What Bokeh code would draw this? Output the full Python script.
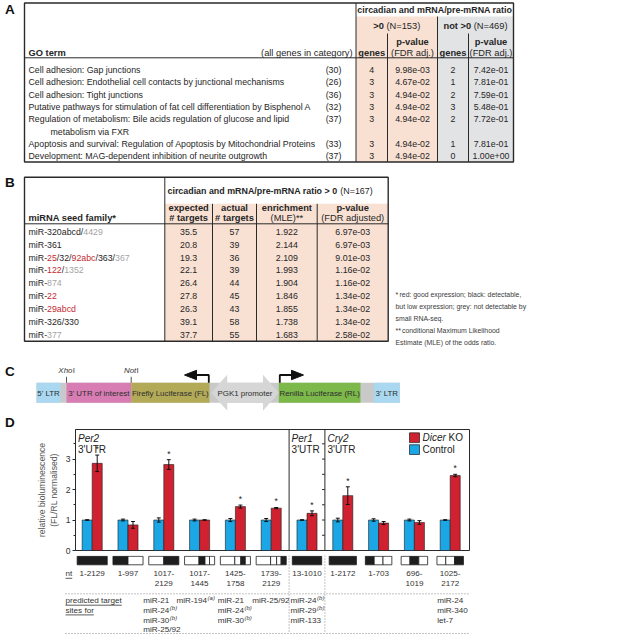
from bokeh.plotting import figure
from bokeh.models import Range1d, FixedTicker
from bokeh.embed import file_html
from bokeh.resources import INLINE
from bokeh.core.properties import value

# ======================= DATA =======================
# Panel A
GO_TERMS = [
    ["Cell adhesion: Gap junctions"],
    ["Cell adhesion: Endothelial cell contacts by junctional mechanisms"],
    ["Cell adhesion: Tight junctions"],
    ["Putative pathways for stimulation of fat cell differentiation by Bisphenol A"],
    ["Regulation of metabolism: Bile acids regulation of glucose and lipid", "metabolism via FXR"],
    ["Apoptosis and survival: Regulation of Apoptosis by Mitochondrial Proteins"],
    ["Development: MAG-dependent inhibition of neurite outgrowth"],
]
GO_CATEGORY_SIZE = [30, 26, 36, 32, 37, 33, 37]
POS_GENES = [4, 3, 3, 3, 3, 3, 3]
POS_PVAL = ["9.98e-03", "4.67e-02", "4.94e-02", "4.94e-02", "4.94e-02", "4.94e-02", "4.94e-02"]
NEG_GENES = [2, 1, 2, 3, 2, 1, 0]
NEG_PVAL = ["7.42e-01", "7.81e-01", "7.59e-01", "5.48e-01", "7.72e-01", "7.81e-01", "1.00e+00"]
N_POS_A = 153
N_NEG_A = 469

# Panel B  (k: black, r: red, g: grey)
MIRNA_FAMILY = [
    [("miR-320abcd/", "k"), ("4429", "g")],
    [("miR-361", "k")],
    [("miR-", "k"), ("25", "r"), ("/32/", "k"), ("92abc", "r"), ("/363/", "k"), ("367", "g")],
    [("miR-", "k"), ("122", "r"), ("/", "k"), ("1352", "g")],
    [("miR-", "k"), ("874", "g")],
    [("miR-", "k"), ("22", "r")],
    [("miR-", "k"), ("29abcd", "r")],
    [("miR-326/330", "k")],
    [("miR-", "k"), ("377", "g")],
]
EXPECTED_TARGETS = [35.5, 20.8, 19.3, 22.1, 26.4, 27.8, 26.3, 39.1, 37.7]
ACTUAL_TARGETS = [57, 39, 36, 39, 44, 45, 43, 58, 55]
ENRICHMENT = [1.922, 2.144, 2.109, 1.993, 1.904, 1.846, 1.855, 1.738, 1.683]
PVAL_B = ["6.97e-03", "6.97e-03", "9.01e-03", "1.16e-02", "1.16e-02",
          "1.34e-02", "1.34e-02", "1.34e-02", "2.58e-02"]
N_B = 167
FOOTNOTE = [("* ", "red: good expression; black: detectable,"),
            ("", "but low expression; grey: not detectable by"),
            ("", "small RNA-seq."),
            ("** ", "conditional Maximum Likelihood"),
            ("", "Estimate (MLE) of the odds ratio.")]

# Panel D
GENE_PANELS = ["Per2", "Per1", "Cry2"]
NT_LABELS = [["1-2129"], ["1-997"], ["1017-", "2129"], ["1017-", "1445"], ["1425-", "1758"],
             ["1739-", "2129"], ["13-1010"], ["1-2172"], ["1-703"], ["696-", "1019"], ["1025-", "2172"]]
CONTROL = [1.00, 1.00, 1.00, 1.00, 1.00, 1.00, 1.00, 1.00, 1.00, 1.00, 1.00]
CONTROL_ERR = [0.01, 0.03, 0.07, 0.03, 0.05, 0.05, 0.01, 0.06, 0.04, 0.03, 0.01]
DICER_KO = [2.86, 0.84, 2.82, 1.00, 1.44, 1.39, 1.22, 1.80, 0.90, 0.92, 2.46]
DICER_KO_ERR = [0.27, 0.11, 0.16, 0.01, 0.05, 0.02, 0.08, 0.29, 0.05, 0.06, 0.04]
DICER_KO_SIG = [1, 0, 1, 0, 1, 1, 1, 1, 0, 0, 1]
# parts of the 3'UTR contained in each construct: (start fraction, end fraction, included)
NT_SEGMENTS = [
    [(0.0, 1.0, 1)],
    [(0.0, 0.5, 1), (0.5, 1.0, 0)],
    [(0.0, 0.5, 0), (0.5, 1.0, 1)],
    [(0.0, 0.48, 0), (0.48, 0.68, 1), (0.68, 0.83, 0), (0.83, 1.0, 0)],
    [(0.0, 0.48, 0), (0.48, 0.68, 0), (0.68, 0.83, 1), (0.83, 1.0, 0)],
    [(0.0, 0.48, 0), (0.48, 0.68, 0), (0.68, 0.83, 0), (0.83, 1.0, 1)],
    [(0.0, 1.0, 1)],
    [(0.0, 1.0, 1)],
    [(0.0, 0.333, 1), (0.333, 0.667, 0), (0.667, 1.0, 0)],
    [(0.0, 0.333, 0), (0.333, 0.667, 1), (0.667, 1.0, 0)],
    [(0.0, 0.333, 0), (0.333, 0.667, 0), (0.667, 1.0, 1)],
]
TARGET_SITES = {
    2: [("miR-21", ""), ("miR-24", "(b)"), ("miR-30", "(b)"), ("miR-25/92", "")],
    3: [("miR-194", "(a)")],
    4: [("miR-21", ""), ("miR-24", "(b)"), ("miR-30", "(b)")],
    5: [("miR-25/92", "")],
    6: [("miR-24", "(b)"), ("miR-29", "(b)"), ("miR-133", "")],
    10: [("miR-24", ""), ("miR-340", ""), ("let-7", "")],
}

# ======================= STYLE =======================
SANS = "Liberation Sans"
LINE = "#2a2a2a"
TXT = "#262626"
PEACH = "#f8e0d2"
GREYBG = "#e2e3e5"
COLORS = {"k": TXT, "r": "#c42a32", "g": "#a4a4a4"}
BLUE = "#1ba7e5"
RED = "#cf2130"
FT = 8.8    # table body font
FH = 9.3    # table header font
FTOP = 8.9  # top header font

AW = {' ': 278, '-': 333, '/': 278, '(': 333, ')': 333, '=': 584, '>': 584, '.': 278, ',': 278,
      ':': 278, ';': 278, '*': 389, "'": 191, '#': 556,
      'A': 667, 'B': 667, 'C': 722, 'D': 722, 'E': 667, 'F': 611, 'G': 778, 'H': 722, 'I': 278,
      'K': 667, 'L': 556, 'M': 833, 'N': 722, 'O': 778, 'P': 667, 'R': 722, 'S': 667, 'T': 611,
      'U': 722, 'X': 667, 'a': 556, 'b': 556, 'c': 500, 'd': 556, 'e': 556, 'f': 278, 'g': 556,
      'h': 556, 'i': 222, 'j': 222, 'k': 500, 'l': 222, 'm': 833, 'n': 556, 'o': 556, 'p': 556,
      'q': 556, 'r': 333, 's': 500, 't': 278, 'u': 556, 'v': 500, 'w': 722, 'x': 500, 'y': 500, 'z': 500}
AWB = dict(AW)
AWB.update({'a': 556, 'b': 611, 'c': 556, 'd': 611, 'e': 556, 'f': 333, 'g': 611, 'h': 611, 'i': 278,
            'j': 278, 'k': 556, 'l': 278, 'm': 889, 'n': 611, 'o': 611, 'p': 611, 'q': 611, 'r': 389,
            's': 556, 't': 333, 'u': 611, 'v': 556, 'w': 778, 'x': 556, 'y': 556, 'A': 722, 'N': 722,
            'R': 722, '*': 389, "'": 238})


def tw(s, size, bold=False):
    table = AWB if bold else AW
    return sum(table.get(c, 556) for c in s) / 1000.0 * size


def fs(px):
    return "%.2fpx" % px


def txt(p, x, y, s, size=FT, color=TXT, align="left", style="normal", baseline="middle"):
    p.text(x=[x], y=[y], text=[s], text_font=value(SANS), text_font_size=fs(size),
           text_color=color, text_align=align, text_baseline=baseline, text_font_style=style)


def rich(p, x, y, segs, size=FT):
    xx = x
    for s, c in segs:
        txt(p, xx, y, s, size, color=COLORS[c])
        xx += tw(s, size)


def blank(p):
    p.grid.visible = False
    return p


# ======================= TOP FIGURE (A, B, C) =======================
top = figure(width=617, height=428, x_range=Range1d(0, 617), y_range=Range1d(428, 0),
             x_axis_type=None, y_axis_type=None, output_backend="svg", toolbar_location=None,
             min_border=0, outline_line_color=None)
blank(top)

for letter, ly in [("A", 8.5), ("B", 182.0), ("C", 371.0), ("D", 421.5)]:
    txt(top, 4.5, ly, letter, 13.5, color="#111", style="bold")

# ---- Panel A
A_L, A_R, A_T, A_B = 24, 513, 2.5, 161.5
XS, XG1, XM, XG2 = 355.5, 387, 437, 468
top.quad(left=[XS], right=[XM], top=[16], bottom=[A_B], fill_color=PEACH, line_color=None)
top.quad(left=[XM], right=[A_R], top=[16], bottom=[A_B], fill_color=GREYBG, line_color=None)
top.segment(x0=[XS, XM, XG1, XG2, A_L], y0=[A_T, 16, 33, 33, 57.3],
            x1=[XS, XM, XG1, XG2, A_R], y1=[A_B, A_B, A_B, A_B, 57.3], line_color=LINE, line_width=1)
top.quad(left=[A_L], right=[A_R], top=[A_T], bottom=[A_B], fill_color=None, line_color=LINE, line_width=1.4)

txt(top, (XS + A_R) / 2, 9.4, "circadian and mRNA/pre-mRNA ratio", FTOP, style="bold", align="center")
for (bt_, rt_, l_, r_) in [(">0", "(N=%d)" % N_POS_A, XS, XM), ("not >0", "(N=%d)" % N_NEG_A, XM, A_R)]:
    wb = tw(bt_ + " ", FH, True)
    wtot = wb + tw(rt_, FH)
    x0 = (l_ + r_) / 2 - wtot / 2
    txt(top, x0, 25, bt_, FH, style="bold")
    txt(top, x0 + wb, 25, rt_, FH)
for cx in [(XG1 + XM) / 2, (XG2 + A_R) / 2]:
    txt(top, cx, 41.5, "p-value", FH, style="bold", align="center")
    txt(top, cx, 52.0, "(FDR adj.)", FH, align="center")
for cx in [(XS + XG1) / 2, (XM + XG2) / 2]:
    txt(top, cx, 52.0, "genes", FH, style="bold", align="center")
txt(top, 28, 52.0, "GO term", FH, style="bold")
txt(top, 352, 52.0, "(all genes in category)", FH, align="right")

slot = 0
for i, lines in enumerate(GO_TERMS):
    y = 69.5 + 12.3 * slot
    txt(top, 28, y, lines[0])
    if len(lines) > 1:
        txt(top, 50, y + 12.3, lines[1])
    txt(top, 333, y, "(%d)" % GO_CATEGORY_SIZE[i], align="center")
    txt(top, (XS + XG1) / 2, y, str(POS_GENES[i]), align="center")
    txt(top, (XG1 + XM) / 2, y, POS_PVAL[i], align="center")
    txt(top, (XM + XG2) / 2, y, str(NEG_GENES[i]), align="center")
    txt(top, (XG2 + A_R) / 2, y, NEG_PVAL[i], align="center")
    slot += len(lines)

# ---- Panel B
B_L, B_R, B_T, B_B = 24, 387.7, 176.7, 340.7
BC = [164.3, 212, 256, 316.7, 387.7]
top.quad(left=[BC[0]], right=[B_R], top=[203.3], bottom=[B_B], fill_color=PEACH, line_color=None)
top.segment(x0=[BC[0], BC[1], BC[2], BC[3], B_L], y0=[B_T, 203.3, 203.3, 203.3, 223.3],
            x1=[BC[0], BC[1], BC[2], BC[3], B_R], y1=[B_B, B_B, B_B, B_B, 223.3], line_color=LINE, line_width=1)
top.quad(left=[B_L], right=[B_R], top=[B_T], bottom=[B_B], fill_color=None, line_color=LINE, line_width=1.4)
hb = "circadian and mRNA/pre-mRNA ratio > 0"
txt(top, 167, 190, hb, FTOP, style="bold")
txt(top, 167 + tw(hb + " ", FTOP, True), 190, "(N=%d)" % N_B, FTOP)
heads = [("expected", "# targets", True), ("actual", "# targets", True),
         ("enrichment", "(MLE)**", False), ("p-value", "(FDR adjusted)", False)]
for j, (h1, h2, bold2) in enumerate(heads):
    cx = (BC[j] + BC[j + 1]) / 2
    txt(top, cx, 207.8, h1, FH, style="bold", align="center")
    txt(top, cx, 217.6, h2, FH, style="bold" if bold2 else "normal", align="center")
txt(top, 28, 217.6, "miRNA seed family*", FH, style="bold")
for i, segs in enumerate(MIRNA_FAMILY):
    y = 231.2 + 12.9 * i
    rich(top, 28, y, segs)
    txt(top, (BC[0] + BC[1]) / 2, y, "%.1f" % EXPECTED_TARGETS[i], align="center")
    txt(top, (BC[1] + BC[2]) / 2, y, "%d" % ACTUAL_TARGETS[i], align="center")
    txt(top, (BC[2] + BC[3]) / 2, y, "%.3f" % ENRICHMENT[i], align="center")
    txt(top, (BC[3] + BC[4]) / 2, y, PVAL_B[i], align="center")
for k, (mark, line) in enumerate(FOOTNOTE):
    yy = 293.5 + 12.0 * k
    if mark:
        txt(top, 395, yy, mark.strip(), 6.9, color="#3a3a3a")
        txt(top, 395 + (6.5 if len(mark) > 2 else 4.0), yy, line, 6.9, color="#3a3a3a")
    else:
        txt(top, 395, yy, line, 6.9, color="#3a3a3a")

# ---- Panel C
CY0, CY1 = 382.3, 402.3
FC = 7.9
top.quad(left=[36], right=[399.3], top=[CY0], bottom=[CY1], fill_color="#c9c9c9", line_color=None)
C_BOXES = [(36, 60, "#aad8f0", "5' LTR"), (66, 130.7, "#d77db4", "3' UTR of interest"),
           (130.7, 209, "#b3aa58", "Firefly Luciferase (FL)"),
           (278.3, 360, "#7cb84a", "Renilla Luciferase (RL)"), (373.3, 399.3, "#aad8f0", "3' LTR")]
for l, r, c, lab in C_BOXES:
    top.quad(left=[l], right=[r], top=[CY0], bottom=[CY1], fill_color=c, line_color=None)
    txt(top, (l + r) / 2, 392.6, lab, FC, color="#2e2e2e", align="center")
top.patch(x=[210.7, 226.7, 226.7, 262.5, 262.5, 278.3, 262.5, 262.5, 226.7, 226.7],
          y=[392.3, 374.3, 382.3, 382.3, 374.3, 392.3, 410.3, 402.3, 402.3, 410.3],
          fill_color="#d6d6d6", line_color=None)
txt(top, 244.5, 392.6, "PGK1 promoter", FC, color="#2e2e2e", align="center")
top.line(x=[208.3, 208.3, 195], y=[382.3, 374.5, 374.5], line_color="#111", line_width=1.8)
top.patch(x=[184, 196, 196], y=[374.5, 369.8, 379.2], fill_color="#111", line_color="#111")
top.line(x=[279.3, 279.3, 292], y=[382.3, 374.5, 374.5], line_color="#111", line_width=1.8)
top.patch(x=[303, 291, 291], y=[374.5, 369.8, 379.2], fill_color="#111", line_color="#111")
top.segment(x0=[66, 130.7], y0=[376.3, 376.3], x1=[66, 130.7], y1=[382.3, 382.3], line_color="#555", line_width=1)
for sx, ital in [(66, "Xho"), (130.7, "Not")]:
    wi = tw(ital, FC) + tw("I", FC)
    xs0 = sx - wi / 2
    txt(top, xs0, 369.8, ital, FC, color="#333", style="italic")
    txt(top, xs0 + tw(ital, FC) + 0.3, 369.8, "I", FC, color="#333")

# ======================= CHART (D) =======================
PX0, STEP = 91.7, 35.8


def gx(px):
    return (px - PX0) / STEP


ch = figure(width=617, height=127, x_range=Range1d(gx(75), gx(469)), y_range=Range1d(0, 3.97),
            x_axis_type=None, output_backend="svg", toolbar_location=None,
            min_border_left=75, min_border_right=148, min_border_top=1, min_border_bottom=5,
            outline_line_color=LINE, outline_line_width=1)
blank(ch)
ya = ch.yaxis[0]
ya.ticker = FixedTicker(ticks=[0, 1, 2, 3], minor_ticks=[0.5, 1.5, 2.5, 3.5])
ya.axis_label = "relative bioluminescence\n(FL/RL normalised)"
ya.axis_label_text_font = SANS
ya.axis_label_text_font_size = fs(8.6)
ya.axis_label_text_font_style = "normal"
ya.axis_label_text_color = "#555"
ya.axis_label_standoff = 4
ya.major_label_text_font = SANS
ya.major_label_text_font_size = fs(8.6)
ya.major_label_text_color = "#333"
ya.major_label_standoff = 2
ya.major_tick_out = 3
ya.major_tick_in = 0
ya.minor_tick_out = 2
ya.minor_tick_in = 0
ya.axis_line_color = LINE
ya.major_tick_line_color = LINE
ya.minor_tick_line_color = LINE

idx = list(range(len(DICER_KO)))
xc = [i - 0.14 for i in idx]
xk = [i + 0.14 for i in idx]
ch.vbar(x=xc, top=CONTROL, bottom=0, width=0.28, fill_color=BLUE, line_color="#1c1c1c", line_width=0.6)
ch.vbar(x=xk, top=DICER_KO, bottom=0, width=0.28, fill_color=RED, line_color="#1c1c1c", line_width=0.6)
for xs_, vals, errs in [(xc, CONTROL, CONTROL_ERR), (xk, DICER_KO, DICER_KO_ERR)]:
    lo = [v - e for v, e in zip(vals, errs)]
    hi = [v + e for v, e in zip(vals, errs)]
    ch.segment(x0=xs_, y0=lo, x1=xs_, y1=hi, line_color="#111", line_width=1)
    ch.segment(x0=[x - 0.055 for x in xs_], y0=hi, x1=[x + 0.055 for x in xs_], y1=hi, line_color="#111", line_width=1)
    ch.segment(x0=[x - 0.055 for x in xs_], y0=lo, x1=[x + 0.055 for x in xs_], y1=lo, line_color="#111", line_width=1)
sig_x = [xk[i] for i in idx if DICER_KO_SIG[i]]
sig_y = [DICER_KO[i] + DICER_KO_ERR[i] + 0.2 for i in idx if DICER_KO_SIG[i]]
ch.text(x=sig_x, y=sig_y, text=["*"] * len(sig_x), text_font=value(SANS), text_font_size=fs(8.5),
        text_align="center", text_baseline="middle", text_color="#222")
ch.segment(x0=[5.5, 6.5], y0=[0, 0], x1=[5.5, 6.5], y1=[4, 4], line_color=LINE, line_width=1)
tk = [0.5, 1.0, 1.5, 2.0, 2.5, 3.0, 3.5]
ch.segment(x0=[6.42] * len(tk), y0=tk, x1=[6.5] * len(tk), y1=tk, line_color=LINE, line_width=1)
FG = 10.0
for g, gname in enumerate(GENE_PANELS):
    xg = [gx(77.5), 5.5 + 0.07, 6.5 + 0.07][g]
    txt(ch, xg, 3.69, gname, FG, color="#222", style="italic")
    txt(ch, xg, 3.31, "3'UTR", FG, color="#222")
ch.quad(left=[gx(409)], right=[gx(419)], top=[3.86], bottom=[3.54], fill_color=RED, line_color="#1c1c1c", line_width=0.7)
ch.quad(left=[gx(409)], right=[gx(419)], top=[3.47], bottom=[3.15], fill_color=BLUE, line_color="#1c1c1c", line_width=0.7)
txt(ch, gx(422), 3.70, "Dicer", FG, color="#222", style="italic")
txt(ch, gx(422) + tw("Dicer ", FG) / STEP, 3.70, "KO", FG, color="#222")
txt(ch, gx(422), 3.31, "Control", FG, color="#222")

# ======================= BOTTOM (constructs + targets) =======================
bt = figure(width=617, height=79, x_range=Range1d(gx(0), gx(617)), y_range=Range1d(634, 555),
            x_axis_type=None, y_axis_type=None, output_backend="svg", toolbar_location=None,
            min_border=0, outline_line_color=None)
blank(bt)
FB = 8.1
BOX_W = [0.84, 0.84, 0.84, 0.84, 0.84, 0.84, 0.82, 0.76, 0.74, 0.74, 0.74]
ql, qr, qc = [], [], []
for i, segs in enumerate(NT_SEGMENTS):
    w = BOX_W[i]
    for f0, f1, filled in segs:
        ql.append(i - w / 2 + f0 * w)
        qr.append(i - w / 2 + f1 * w)
        qc.append("#1e1e1e" if filled else "white")
bt.quad(left=ql, right=qr, top=[555.8] * len(ql), bottom=[564.3] * len(ql), fill_color=qc,
        line_color="#1e1e1e", line_width=0.8)
for i, lines in enumerate(NT_LABELS):
    for k, s in enumerate(lines):
        txt(bt, i, 573.3 + 10 * k, s, FB, color="#333", align="center")
for s, yy in [("nt", 573.3), ("predicted target", 600.2), ("sites for", 609.9)]:
    txt(bt, gx(65), yy, s, FB, color="#333")
    bt.segment(x0=[gx(65)], y0=[yy + 4.5], x1=[gx(65) + tw(s, FB) / STEP], y1=[yy + 4.5], line_color="#333", line_width=0.8)
bt.segment(x0=[gx(65), gx(65)], y0=[593.3, 633.0], x1=[gx(468), gx(468)], y1=[593.3, 633.0],
           line_color="#888", line_width=1, line_dash="1 2")
bt.segment(x0=[5.5, 6.5], y0=[555, 555], x1=[5.5, 6.5], y1=[633.0, 633.0],
           line_color="#888", line_width=1, line_dash="1 2")
TARGET_X = {2: 142.7, 3: 176.0, 4: 217.3, 5: 251.7, 6: 290.0, 10: 436.7}
for gi, items in TARGET_SITES.items():
    x0 = gx(TARGET_X[gi])
    for k, (name, sup) in enumerate(items):
        yy = 600.2 + 9.7 * k
        txt(bt, x0, yy, name, FB, color="#333")
        if sup:
            txt(bt, x0 + (tw(name, FB) + 0.5) / STEP, yy - 2.6, sup, 6.0, color="#333", style="italic")

# separate roots so that the frames are not aligned with each other
open("out.html", "w").write(file_html([top, ch, bt], INLINE))
